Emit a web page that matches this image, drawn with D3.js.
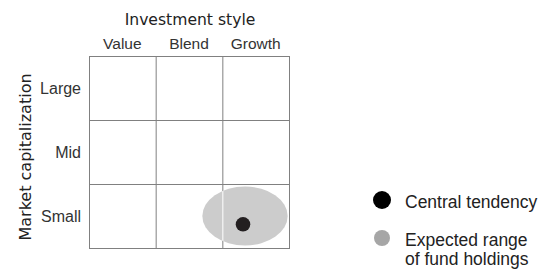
<!DOCTYPE html>
<html>
<head>
<meta charset="utf-8">
<script src="https://cdn.jsdelivr.net/npm/d3@7"></script>
<style>
  body { margin: 0; background: #fff; }
  svg { display: block; }
  .lbl { font-family: "Liberation Sans", Arial, sans-serif; fill: #333; }
  .ttl { font-family: "DejaVu Sans", sans-serif; fill: #222; }
  .leg { font-family: "Liberation Sans", Arial, sans-serif; fill: #222; }
</style>
</head>
<body>
<div id="holder"></div>
<script>
// chart data
const styles = ["Value", "Blend", "Growth"];
const caps = ["Small", "Mid", "Large"];
// positions in style/cap units (0..3 across the grid, 0..3 up the grid)
const centralTendency = { style: 2.31, cap: 0.37 };
const expectedRange = { style: 2.34, cap: 0.5, rStyle: 0.64, rCap: 0.46 };
const legendLabels = [["Central tendency"], ["Expected range", "of fund holdings"]];
const legendColors = ["#000000", "#a6a6a6"];

const width = 541;
const height = 271;
const grid = { left: 89, right: 289, top: 56, bottom: 248 };

const svg = d3.select("#holder")
    .append("svg")
    .attr("width", width)
    .attr("height", height);

const x = d3.scaleLinear().domain([0, styles.length]).range([grid.left, grid.right]);
const y = d3.scaleLinear().domain([0, caps.length]).range([grid.bottom, grid.top]);

// expected range ellipse
svg.append("clipPath")
    .attr("id", "rangeClip")
    .append("ellipse")
    .attr("cx", x(expectedRange.style))
    .attr("cy", y(expectedRange.cap))
    .attr("rx", x(expectedRange.rStyle) - x(0))
    .attr("ry", y(0) - y(expectedRange.rCap));

// grid lines
const lineColor = "#808080";
svg.append("g")
    .selectAll("line")
    .data(d3.range(1, styles.length))
    .enter()
    .append("line")
    .attr("x1", d => x(d) + 0.5)
    .attr("x2", d => x(d) + 0.5)
    .attr("y1", grid.top)
    .attr("y2", grid.bottom)
    .attr("stroke", lineColor);

svg.append("g")
    .selectAll("line")
    .data(d3.range(1, caps.length))
    .enter()
    .append("line")
    .attr("x1", grid.left)
    .attr("x2", grid.right)
    .attr("y1", d => y(d) + 0.5)
    .attr("y2", d => y(d) + 0.5)
    .attr("stroke", lineColor);

svg.append("ellipse")
    .attr("cx", x(expectedRange.style))
    .attr("cy", y(expectedRange.cap))
    .attr("rx", x(expectedRange.rStyle) - x(0))
    .attr("ry", y(0) - y(expectedRange.rCap))
    .attr("fill", "#cccccc");

// white gap where the column line runs through the ellipse
svg.append("g")
    .attr("clip-path", "url(#rangeClip)")
    .selectAll("line")
    .data(d3.range(1, styles.length))
    .enter()
    .append("line")
    .attr("x1", d => x(d) + 0.5)
    .attr("x2", d => x(d) + 0.5)
    .attr("y1", grid.top)
    .attr("y2", grid.bottom)
    .attr("stroke", "#ffffff");

svg.append("rect")
    .attr("x", grid.left + 0.5)
    .attr("y", grid.top + 0.5)
    .attr("width", grid.right - grid.left)
    .attr("height", grid.bottom - grid.top)
    .attr("fill", "none")
    .attr("stroke", lineColor);

svg.append("circle")
    .attr("cx", x(centralTendency.style))
    .attr("cy", y(centralTendency.cap))
    .attr("r", 7.3)
    .attr("fill", "#231f20");

// column labels
svg.append("text")
    .attr("class", "ttl")
    .attr("x", (grid.left + grid.right) / 2 + 1)
    .attr("y", 25)
    .attr("text-anchor", "middle")
    .attr("font-size", 15.6)
    .text("Investment style");

svg.append("g")
    .selectAll("text")
    .data(styles)
    .enter()
    .append("text")
    .attr("class", "lbl")
    .attr("x", (d, i) => x(i + 0.5))
    .attr("y", 49)
    .attr("text-anchor", "middle")
    .attr("font-size", 15.5)
    .text(d => d);

// row labels
svg.append("g")
    .selectAll("text")
    .data(caps)
    .enter()
    .append("text")
    .attr("class", "lbl")
    .attr("x", 81)
    .attr("y", (d, i) => y(i + 0.5) + 6)
    .attr("text-anchor", "end")
    .attr("font-size", 16)
    .text(d => d);

svg.append("text")
    .attr("class", "ttl")
    .attr("transform", "translate(31, 157) rotate(-90)")
    .attr("text-anchor", "middle")
    .attr("font-size", 16)
    .text("Market capitalization");

// legend
const legend = svg.append("g")
    .selectAll("g")
    .data(legendLabels)
    .enter()
    .append("g")
    .attr("transform", (d, i) => `translate(382, ${i === 0 ? 200 : 238})`);

legend.append("circle")
    .attr("r", (d, i) => i === 0 ? 9 : 8)
    .attr("fill", (d, i) => legendColors[i]);

legend.append("text")
    .attr("class", "leg")
    .attr("font-size", 17.5)
    .selectAll("tspan")
    .data(d => d)
    .enter()
    .append("tspan")
    .attr("x", 23)
    .attr("y", (d, i) => 8 + i * 19)
    .text(d => d);
</script>
</body>
</html>
